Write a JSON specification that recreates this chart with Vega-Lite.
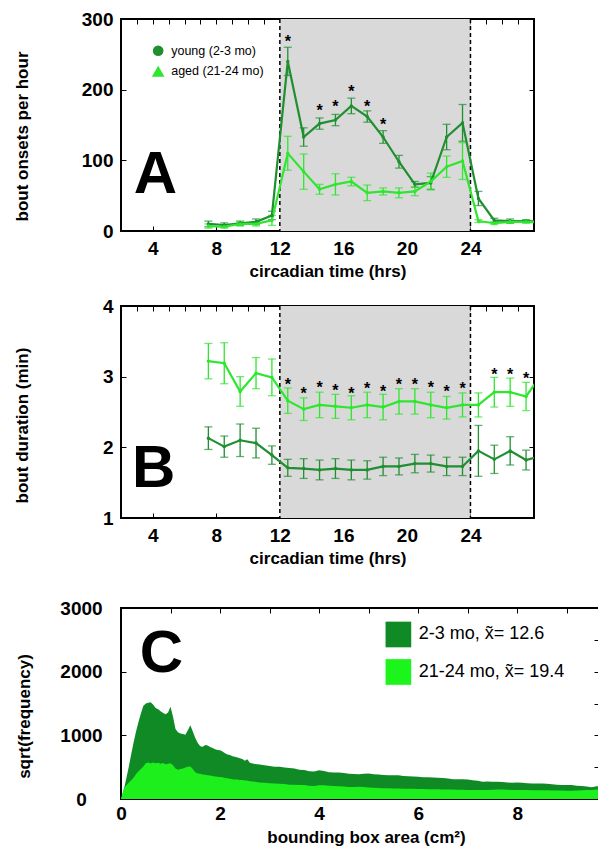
{
  "$schema": "https://vega.github.io/schema/vega-lite/v6.json",
  "background": "white",
  "padding": {"left": 11, "top": 9, "right": 0, "bottom": 0},
  "spacing": 31,
  "datasets": {
    "a": [
      {"t": 7.5, "g": "young", "m": 10, "lo": 6, "hi": 14},
      {"t": 8.5, "g": "young", "m": 8.5, "lo": 5.5, "hi": 11.5},
      {"t": 9.5, "g": "young", "m": 11, "lo": 8, "hi": 14},
      {"t": 10.5, "g": "young", "m": 13, "lo": 9, "hi": 17},
      {"t": 11.5, "g": "young", "m": 22, "lo": 16, "hi": 28},
      {"t": 12.5, "g": "young", "m": 240, "lo": 220, "hi": 260},
      {"t": 13.5, "g": "young", "m": 133, "lo": 120, "hi": 146},
      {"t": 14.5, "g": "young", "m": 152, "lo": 144, "hi": 160},
      {"t": 15.5, "g": "young", "m": 157, "lo": 149, "hi": 165},
      {"t": 16.5, "g": "young", "m": 177, "lo": 166, "hi": 188},
      {"t": 17.5, "g": "young", "m": 162, "lo": 154, "hi": 170},
      {"t": 18.5, "g": "young", "m": 133, "lo": 124, "hi": 142},
      {"t": 19.5, "g": "young", "m": 98, "lo": 89, "hi": 107},
      {"t": 20.5, "g": "young", "m": 66, "lo": 62, "hi": 70},
      {"t": 21.5, "g": "young", "m": 68, "lo": 59, "hi": 77},
      {"t": 22.5, "g": "young", "m": 133, "lo": 115, "hi": 151},
      {"t": 23.5, "g": "young", "m": 153, "lo": 127, "hi": 179},
      {"t": 24.5, "g": "young", "m": 46, "lo": 36, "hi": 56},
      {"t": 25.5, "g": "young", "m": 15, "lo": 12, "hi": 18},
      {"t": 26.5, "g": "young", "m": 14, "lo": 11, "hi": 17},
      {"t": 27.5, "g": "young", "m": 14, "lo": 12, "hi": 16},
      {"t": 28.5, "g": "young", "m": 13, "lo": 11, "hi": 15},
      {"t": 7.5, "g": "aged", "m": 7, "lo": 4, "hi": 10},
      {"t": 8.5, "g": "aged", "m": 6, "lo": 4, "hi": 8},
      {"t": 9.5, "g": "aged", "m": 10, "lo": 7, "hi": 13},
      {"t": 10.5, "g": "aged", "m": 10, "lo": 7, "hi": 13},
      {"t": 11.5, "g": "aged", "m": 15, "lo": 8, "hi": 22},
      {"t": 12.5, "g": "aged", "m": 110, "lo": 86, "hi": 134},
      {"t": 13.5, "g": "aged", "m": 84, "lo": 59, "hi": 109},
      {"t": 14.5, "g": "aged", "m": 59, "lo": 52, "hi": 66},
      {"t": 15.5, "g": "aged", "m": 66, "lo": 51, "hi": 81},
      {"t": 16.5, "g": "aged", "m": 70, "lo": 64, "hi": 76},
      {"t": 17.5, "g": "aged", "m": 54, "lo": 43, "hi": 65},
      {"t": 18.5, "g": "aged", "m": 56, "lo": 51, "hi": 61},
      {"t": 19.5, "g": "aged", "m": 54, "lo": 47, "hi": 61},
      {"t": 20.5, "g": "aged", "m": 56, "lo": 50, "hi": 62},
      {"t": 21.5, "g": "aged", "m": 70, "lo": 58, "hi": 82},
      {"t": 22.5, "g": "aged", "m": 91, "lo": 76, "hi": 106},
      {"t": 23.5, "g": "aged", "m": 99, "lo": 73, "hi": 125},
      {"t": 24.5, "g": "aged", "m": 14, "lo": 12, "hi": 16},
      {"t": 25.5, "g": "aged", "m": 11, "lo": 9, "hi": 13},
      {"t": 26.5, "g": "aged", "m": 13, "lo": 11, "hi": 15},
      {"t": 27.5, "g": "aged", "m": 13, "lo": 11, "hi": 15},
      {"t": 28.5, "g": "aged", "m": 12, "lo": 10, "hi": 14}
    ],
    "b": [
      {"t": 7.5, "g": "young", "m": 2.13, "lo": 1.97, "hi": 2.29},
      {"t": 8.5, "g": "young", "m": 2.01, "lo": 1.86, "hi": 2.16},
      {"t": 9.5, "g": "young", "m": 2.10, "lo": 1.87, "hi": 2.33},
      {"t": 10.5, "g": "young", "m": 2.06, "lo": 1.85, "hi": 2.27},
      {"t": 11.5, "g": "young", "m": 1.89, "lo": 1.76, "hi": 2.02},
      {"t": 12.5, "g": "young", "m": 1.71, "lo": 1.59, "hi": 1.83},
      {"t": 13.5, "g": "young", "m": 1.70, "lo": 1.56, "hi": 1.84},
      {"t": 14.5, "g": "young", "m": 1.68, "lo": 1.54, "hi": 1.82},
      {"t": 15.5, "g": "young", "m": 1.70, "lo": 1.56, "hi": 1.84},
      {"t": 16.5, "g": "young", "m": 1.68, "lo": 1.54, "hi": 1.82},
      {"t": 17.5, "g": "young", "m": 1.68, "lo": 1.55, "hi": 1.81},
      {"t": 18.5, "g": "young", "m": 1.73, "lo": 1.60, "hi": 1.86},
      {"t": 19.5, "g": "young", "m": 1.73, "lo": 1.61, "hi": 1.85},
      {"t": 20.5, "g": "young", "m": 1.77, "lo": 1.64, "hi": 1.90},
      {"t": 21.5, "g": "young", "m": 1.77, "lo": 1.65, "hi": 1.89},
      {"t": 22.5, "g": "young", "m": 1.73, "lo": 1.60, "hi": 1.86},
      {"t": 23.5, "g": "young", "m": 1.73, "lo": 1.60, "hi": 1.86},
      {"t": 24.5, "g": "young", "m": 1.95, "lo": 1.59, "hi": 2.31},
      {"t": 25.5, "g": "young", "m": 1.83, "lo": 1.63, "hi": 2.03},
      {"t": 26.5, "g": "young", "m": 1.95, "lo": 1.75, "hi": 2.15},
      {"t": 27.5, "g": "young", "m": 1.82, "lo": 1.68, "hi": 1.96},
      {"t": 28.5, "g": "young", "m": 1.88, "lo": 1.74, "hi": 2.02},
      {"t": 7.5, "g": "aged", "m": 3.22, "lo": 2.97, "hi": 3.47},
      {"t": 8.5, "g": "aged", "m": 3.19, "lo": 2.90, "hi": 3.48},
      {"t": 9.5, "g": "aged", "m": 2.79, "lo": 2.58, "hi": 3.00},
      {"t": 10.5, "g": "aged", "m": 3.05, "lo": 2.83, "hi": 3.27},
      {"t": 11.5, "g": "aged", "m": 2.99, "lo": 2.73, "hi": 3.25},
      {"t": 12.5, "g": "aged", "m": 2.66, "lo": 2.48, "hi": 2.84},
      {"t": 13.5, "g": "aged", "m": 2.54, "lo": 2.38, "hi": 2.70},
      {"t": 14.5, "g": "aged", "m": 2.60, "lo": 2.42, "hi": 2.78},
      {"t": 15.5, "g": "aged", "m": 2.58, "lo": 2.41, "hi": 2.75},
      {"t": 16.5, "g": "aged", "m": 2.56, "lo": 2.39, "hi": 2.73},
      {"t": 17.5, "g": "aged", "m": 2.60, "lo": 2.42, "hi": 2.78},
      {"t": 18.5, "g": "aged", "m": 2.57, "lo": 2.39, "hi": 2.75},
      {"t": 19.5, "g": "aged", "m": 2.65, "lo": 2.47, "hi": 2.83},
      {"t": 20.5, "g": "aged", "m": 2.65, "lo": 2.47, "hi": 2.83},
      {"t": 21.5, "g": "aged", "m": 2.60, "lo": 2.42, "hi": 2.78},
      {"t": 22.5, "g": "aged", "m": 2.56, "lo": 2.40, "hi": 2.72},
      {"t": 23.5, "g": "aged", "m": 2.60, "lo": 2.43, "hi": 2.77},
      {"t": 24.5, "g": "aged", "m": 2.60, "lo": 2.43, "hi": 2.77},
      {"t": 25.5, "g": "aged", "m": 2.78, "lo": 2.57, "hi": 2.99},
      {"t": 26.5, "g": "aged", "m": 2.78, "lo": 2.58, "hi": 2.98},
      {"t": 27.5, "g": "aged", "m": 2.72, "lo": 2.52, "hi": 2.92},
      {"t": 28.5, "g": "aged", "m": 3.04, "lo": 2.84, "hi": 3.24}
    ],
    "sa": [
      {"t": 12.5, "y": 273}, {"t": 14.5, "y": 175}, {"t": 15.5, "y": 181},
      {"t": 16.5, "y": 202}, {"t": 17.5, "y": 181}, {"t": 18.5, "y": 156}
    ],
    "sb": [
      {"t": 12.5, "y": 2.94}, {"t": 13.5, "y": 2.81}, {"t": 14.5, "y": 2.89},
      {"t": 15.5, "y": 2.85}, {"t": 16.5, "y": 2.81}, {"t": 17.5, "y": 2.88},
      {"t": 18.5, "y": 2.84}, {"t": 19.5, "y": 2.94}, {"t": 20.5, "y": 2.94},
      {"t": 21.5, "y": 2.89}, {"t": 22.5, "y": 2.84}, {"t": 23.5, "y": 2.88},
      {"t": 25.5, "y": 3.08}, {"t": 26.5, "y": 3.08}, {"t": 27.5, "y": 3.02}
    ],
    "c": [
      {"a": 0, "d": 0, "l": 0},
      {"a": 0.05, "d": 120, "l": 150}, {"a": 0.1, "d": 300, "l": 210}, {"a": 0.15, "d": 480, "l": 250},
      {"a": 0.2, "d": 680, "l": 290}, {"a": 0.25, "d": 870, "l": 330}, {"a": 0.3, "d": 1050, "l": 390},
      {"a": 0.35, "d": 1200, "l": 430}, {"a": 0.4, "d": 1340, "l": 470}, {"a": 0.45, "d": 1460, "l": 510},
      {"a": 0.5, "d": 1500, "l": 560}, {"a": 0.55, "d": 1510, "l": 575}, {"a": 0.6, "d": 1520, "l": 560},
      {"a": 0.65, "d": 1480, "l": 575}, {"a": 0.7, "d": 1430, "l": 560}, {"a": 0.75, "d": 1410, "l": 570},
      {"a": 0.8, "d": 1380, "l": 555}, {"a": 0.85, "d": 1350, "l": 565}, {"a": 0.9, "d": 1330, "l": 545},
      {"a": 0.95, "d": 1360, "l": 555}, {"a": 1.0, "d": 1450, "l": 560}, {"a": 1.05, "d": 1290, "l": 530},
      {"a": 1.1, "d": 1100, "l": 480}, {"a": 1.15, "d": 1050, "l": 460}, {"a": 1.2, "d": 1030, "l": 470},
      {"a": 1.25, "d": 1020, "l": 480}, {"a": 1.3, "d": 1010, "l": 495}, {"a": 1.35, "d": 1080, "l": 505},
      {"a": 1.4, "d": 1160, "l": 510}, {"a": 1.45, "d": 1060, "l": 470}, {"a": 1.5, "d": 960, "l": 420},
      {"a": 1.55, "d": 880, "l": 400}, {"a": 1.6, "d": 830, "l": 395}, {"a": 1.65, "d": 820, "l": 385},
      {"a": 1.7, "d": 850, "l": 380}, {"a": 1.75, "d": 840, "l": 375}, {"a": 1.8, "d": 815, "l": 370},
      {"a": 1.85, "d": 800, "l": 360}, {"a": 1.9, "d": 780, "l": 355}, {"a": 1.95, "d": 770, "l": 350},
      {"a": 2.0, "d": 765, "l": 345}, {"a": 2.05, "d": 745, "l": 340}, {"a": 2.1, "d": 720, "l": 330},
      {"a": 2.15, "d": 700, "l": 325}, {"a": 2.2, "d": 690, "l": 320}, {"a": 2.25, "d": 670, "l": 312},
      {"a": 2.3, "d": 665, "l": 305}, {"a": 2.35, "d": 650, "l": 308}, {"a": 2.4, "d": 640, "l": 300},
      {"a": 2.45, "d": 630, "l": 298}, {"a": 2.5, "d": 600, "l": 290}, {"a": 2.55, "d": 625, "l": 290},
      {"a": 2.6, "d": 570, "l": 280}, {"a": 2.7, "d": 550, "l": 272}, {"a": 2.8, "d": 540, "l": 260},
      {"a": 2.9, "d": 530, "l": 255}, {"a": 3.0, "d": 520, "l": 248}, {"a": 3.1, "d": 505, "l": 245},
      {"a": 3.2, "d": 505, "l": 238}, {"a": 3.3, "d": 495, "l": 236}, {"a": 3.4, "d": 485, "l": 225},
      {"a": 3.5, "d": 480, "l": 222}, {"a": 3.6, "d": 460, "l": 220}, {"a": 3.7, "d": 455, "l": 218},
      {"a": 3.8, "d": 435, "l": 210}, {"a": 3.9, "d": 430, "l": 205}, {"a": 4.0, "d": 450, "l": 215},
      {"a": 4.1, "d": 440, "l": 215}, {"a": 4.2, "d": 420, "l": 208}, {"a": 4.3, "d": 415, "l": 205},
      {"a": 4.4, "d": 418, "l": 200}, {"a": 4.5, "d": 410, "l": 195}, {"a": 4.6, "d": 395, "l": 190},
      {"a": 4.7, "d": 392, "l": 188}, {"a": 4.8, "d": 390, "l": 192}, {"a": 4.9, "d": 395, "l": 190},
      {"a": 5.0, "d": 400, "l": 180}, {"a": 5.1, "d": 390, "l": 175}, {"a": 5.2, "d": 385, "l": 172},
      {"a": 5.3, "d": 378, "l": 170}, {"a": 5.4, "d": 375, "l": 168}, {"a": 5.5, "d": 372, "l": 166},
      {"a": 5.6, "d": 375, "l": 165}, {"a": 5.7, "d": 362, "l": 162}, {"a": 5.8, "d": 358, "l": 160},
      {"a": 5.9, "d": 352, "l": 160}, {"a": 6.0, "d": 350, "l": 158}, {"a": 6.1, "d": 342, "l": 158},
      {"a": 6.2, "d": 340, "l": 155}, {"a": 6.3, "d": 338, "l": 155}, {"a": 6.4, "d": 335, "l": 152},
      {"a": 6.5, "d": 328, "l": 150}, {"a": 6.6, "d": 322, "l": 150}, {"a": 6.7, "d": 312, "l": 148},
      {"a": 6.8, "d": 310, "l": 146}, {"a": 6.9, "d": 310, "l": 145}, {"a": 7.0, "d": 305, "l": 142},
      {"a": 7.1, "d": 295, "l": 142}, {"a": 7.2, "d": 288, "l": 140}, {"a": 7.3, "d": 272, "l": 140},
      {"a": 7.4, "d": 275, "l": 140}, {"a": 7.5, "d": 270, "l": 145}, {"a": 7.6, "d": 272, "l": 148},
      {"a": 7.7, "d": 268, "l": 150}, {"a": 7.8, "d": 258, "l": 145}, {"a": 7.9, "d": 255, "l": 142},
      {"a": 8.0, "d": 260, "l": 140}, {"a": 8.1, "d": 255, "l": 140}, {"a": 8.2, "d": 248, "l": 140},
      {"a": 8.3, "d": 245, "l": 138}, {"a": 8.4, "d": 245, "l": 138}, {"a": 8.5, "d": 242, "l": 138},
      {"a": 8.6, "d": 238, "l": 136}, {"a": 8.7, "d": 232, "l": 135}, {"a": 8.8, "d": 222, "l": 133},
      {"a": 8.9, "d": 220, "l": 132}, {"a": 9.0, "d": 220, "l": 130}, {"a": 9.1, "d": 218, "l": 130},
      {"a": 9.2, "d": 210, "l": 135}, {"a": 9.3, "d": 205, "l": 138}, {"a": 9.4, "d": 195, "l": 140},
      {"a": 9.5, "d": 185, "l": 142}, {"a": 9.6, "d": 200, "l": 148}, {"a": 9.7, "d": 205, "l": 150}
    ]
  },
  "vconcat": [
    {
      "bounds": "flush",
      "spacing": 75,
      "vconcat": [
        {
          "width": 413,
          "height": 212,
          "resolve": {"axis": {"x": "independent", "y": "independent"}},
          "layer": [
            {
              "layer": [
                {
                  "data": {"values": [{}]},
                  "mark": {"type": "rect", "color": "#d9d9d9"},
                  "encoding": {
                    "x": {"datum": 12, "type": "quantitative", "scale": {"domain": [2, 28], "nice": false, "zero": false}},
                    "x2": {"datum": 24}
                  }
                },
                {
                  "data": {"values": [{"t": 12}, {"t": 24}]},
                  "mark": {"type": "rule", "color": "black", "strokeDash": [4, 3], "strokeWidth": 1.5},
                  "encoding": {"x": {"field": "t", "type": "quantitative"}}
                },
                {
                  "data": {"name": "a"},
                  "mark": {"type": "errorbar", "ticks": {"size": 8}, "thickness": 1.3, "clip": true},
                  "encoding": {
                    "x": {"field": "t", "type": "quantitative", "scale": {"domain": [2, 28], "nice": false, "zero": false},
                      "axis": {"title": "circadian time (hrs)", "values": [4, 8, 12, 16, 20, 24], "format": "d", "labelPadding": 13.5, "titleY": 32.5}},
                    "y": {"field": "lo", "type": "quantitative", "scale": {"domain": [0, 300], "nice": false},
                      "axis": {"title": "bout onsets per hour", "values": [0, 100, 200, 300], "format": "d", "labelPadding": 13, "titleX": -90, "titleY": 117}},
                    "y2": {"field": "hi"},
                    "color": {"field": "g", "type": "nominal", "scale": {"domain": ["young", "aged"], "range": ["#1f8f30", "#2ee62e"]}, "legend": null}
                  }
                },
                {
                  "data": {"name": "a"},
                  "mark": {"type": "line", "strokeWidth": 2.2, "clip": true, "point": {"filled": true, "size": 12}},
                  "encoding": {
                    "x": {"field": "t", "type": "quantitative"},
                    "y": {"field": "m", "type": "quantitative"},
                    "color": {"field": "g", "type": "nominal", "legend": null}
                  }
                },
                {
                  "data": {"name": "sa"},
                  "mark": {"type": "text", "text": "*", "fontSize": 16, "fontWeight": "bold", "baseline": "middle", "dy": 4, "color": "black"},
                  "encoding": {"x": {"field": "t", "type": "quantitative"}, "y": {"field": "y", "type": "quantitative"}}
                },
                {
                  "data": {"values": [{}]},
                  "mark": {"type": "text", "text": "A", "fontSize": 60, "fontWeight": "bold", "align": "left", "baseline": "alphabetic", "color": "black"},
                  "encoding": {"x": {"datum": 2.8}, "y": {"datum": 54}}
                },
                {
                  "data": {"values": [{}]},
                  "mark": {"type": "point", "shape": "circle", "filled": true, "opacity": 1, "size": 113, "color": "#1f8f30"},
                  "encoding": {"x": {"datum": 4.34}, "y": {"datum": 255}}
                },
                {
                  "data": {"values": [{}]},
                  "mark": {"type": "point", "shape": "triangle-up", "filled": true, "opacity": 1, "size": 160, "color": "#2ee62e"},
                  "encoding": {"x": {"datum": 4.34}, "y": {"datum": 226}}
                },
                {
                  "data": {"values": [{}]},
                  "mark": {"type": "text", "text": "young (2-3 mo)", "fontSize": 12.5, "align": "left", "baseline": "middle", "color": "black"},
                  "encoding": {"x": {"datum": 5.16}, "y": {"datum": 255}}
                },
                {
                  "data": {"values": [{}]},
                  "mark": {"type": "text", "text": "aged (21-24 mo)", "fontSize": 12.5, "align": "left", "baseline": "middle", "color": "black"},
                  "encoding": {"x": {"datum": 5.16}, "y": {"datum": 226}}
                }
              ]
            },
            {
              "data": {"name": "a"},
              "mark": {"type": "point", "opacity": 0, "clip": true},
              "encoding": {
                "x": {"field": "t", "type": "quantitative", "scale": {"domain": [2, 28], "nice": false, "zero": false},
                  "axis": {"orient": "top", "labels": false, "title": null, "values": [3,4,5,6,7,8,9,10,11,12,13,14,15,16,17,18,19,20,21,22,23,24,25,26,27]}},
                "y": {"field": "m", "type": "quantitative", "scale": {"domain": [0, 300], "nice": false},
                  "axis": {"orient": "right", "labels": false, "title": null, "values": [0, 100, 200, 300]}}
              }
            }
          ]
        },
        {
          "width": 413,
          "height": 212,
          "resolve": {"axis": {"x": "independent", "y": "independent"}},
          "layer": [
            {
              "layer": [
                {
                  "data": {"values": [{}]},
                  "mark": {"type": "rect", "color": "#d9d9d9"},
                  "encoding": {
                    "x": {"datum": 12, "type": "quantitative", "scale": {"domain": [2, 28], "nice": false, "zero": false}},
                    "x2": {"datum": 24}
                  }
                },
                {
                  "data": {"values": [{"t": 12}, {"t": 24}]},
                  "mark": {"type": "rule", "color": "black", "strokeDash": [4, 3], "strokeWidth": 1.5},
                  "encoding": {"x": {"field": "t", "type": "quantitative"}}
                },
                {
                  "data": {"name": "b"},
                  "mark": {"type": "errorbar", "ticks": {"size": 8}, "thickness": 1.3, "clip": true},
                  "encoding": {
                    "x": {"field": "t", "type": "quantitative", "scale": {"domain": [2, 28], "nice": false, "zero": false},
                      "axis": {"title": "circadian time (hrs)", "values": [4, 8, 12, 16, 20, 24], "format": "d", "labelPadding": 13.5, "titleY": 32}},
                    "y": {"field": "lo", "type": "quantitative", "scale": {"domain": [1, 4], "nice": false},
                      "axis": {"title": "bout duration (min)", "values": [1, 2, 3, 4], "format": "d", "labelPadding": 13, "titleX": -90, "titleY": 119}},
                    "y2": {"field": "hi"},
                    "color": {"field": "g", "type": "nominal", "scale": {"domain": ["young", "aged"], "range": ["#1f8f30", "#2ee62e"]}, "legend": null}
                  }
                },
                {
                  "data": {"name": "b"},
                  "mark": {"type": "line", "strokeWidth": 2.2, "clip": true, "point": {"filled": true, "size": 12}},
                  "encoding": {
                    "x": {"field": "t", "type": "quantitative"},
                    "y": {"field": "m", "type": "quantitative"},
                    "color": {"field": "g", "type": "nominal", "legend": null}
                  }
                },
                {
                  "data": {"name": "sb"},
                  "mark": {"type": "text", "text": "*", "fontSize": 16, "fontWeight": "bold", "baseline": "middle", "dy": 4, "color": "black"},
                  "encoding": {"x": {"field": "t", "type": "quantitative"}, "y": {"field": "y", "type": "quantitative"}}
                },
                {
                  "data": {"values": [{}]},
                  "mark": {"type": "text", "text": "B", "fontSize": 60, "fontWeight": "bold", "align": "left", "baseline": "alphabetic", "color": "black"},
                  "encoding": {"x": {"datum": 2.7}, "y": {"datum": 1.44}}
                }
              ]
            },
            {
              "data": {"name": "b"},
              "mark": {"type": "point", "opacity": 0, "clip": true},
              "encoding": {
                "x": {"field": "t", "type": "quantitative", "scale": {"domain": [2, 28], "nice": false, "zero": false},
                  "axis": {"orient": "top", "labels": false, "title": null, "values": [3,4,5,6,7,8,9,10,11,12,13,14,15,16,17,18,19,20,21,22,23,24,25,26,27]}},
                "y": {"field": "m", "type": "quantitative", "scale": {"domain": [1, 4], "nice": false},
                  "axis": {"orient": "right", "labels": false, "title": null, "values": [1, 2, 3, 4]}}
              }
            }
          ]
        }
      ]
    },
    {
      "width": 478,
      "height": 191,
      "resolve": {"axis": {"x": "independent", "y": "independent"}},
      "layer": [
        {
          "layer": [
            {
              "data": {"name": "c"},
              "mark": {"type": "area", "color": "#0f8a24", "clip": true},
              "encoding": {
                "x": {"field": "a", "type": "quantitative", "scale": {"domain": [0, 9.65], "nice": false},
                  "axis": {"title": "bounding box area (cm²)", "values": [0,1,2,3,4,5,6,7,8,9],
                    "labelExpr": "datum.value % 2 === 0 ? datum.label : ''", "labelPadding": 10, "titleY": 30, "titleX": 245}},
                "y": {"field": "d", "type": "quantitative", "scale": {"domain": [0, 3000], "nice": false},
                  "axis": {"title": "sqrt(frequency)", "values": [0,500,1000,1500,2000,2500,3000],
                    "labelExpr": "datum.value % 1000 === 0 ? '' + datum.value : ''", "labelAlign": "center", "labelPadding": 45, "titleX": -88, "titleY": 108}}
              }
            },
            {
              "data": {"name": "c"},
              "mark": {"type": "area", "color": "#1cef1c", "clip": true},
              "encoding": {
                "x": {"field": "a", "type": "quantitative"},
                "y": {"field": "l", "type": "quantitative"}
              }
            },
            {
              "data": {"values": [{}]},
              "mark": {"type": "text", "text": "C", "fontSize": 60, "fontWeight": "bold", "align": "left", "baseline": "alphabetic", "color": "black"},
              "encoding": {"x": {"datum": 0.38}, "y": {"datum": 2000}}
            },
            {
              "data": {"values": [{}]},
              "mark": {"type": "point", "shape": "square", "filled": true, "opacity": 1, "size": 660, "color": "#0f8a24"},
              "encoding": {"x": {"datum": 5.6}, "y": {"datum": 2584}}
            },
            {
              "data": {"values": [{}]},
              "mark": {"type": "point", "shape": "square", "filled": true, "opacity": 1, "size": 660, "color": "#1cf51c"},
              "encoding": {"x": {"datum": 5.6}, "y": {"datum": 1995}}
            },
            {
              "data": {"values": [{}]},
              "mark": {"type": "text", "text": "2-3 mo, x̃= 12.6", "fontSize": 18, "align": "left", "baseline": "middle", "color": "black"},
              "encoding": {"x": {"datum": 6.01}, "y": {"datum": 2584}}
            },
            {
              "data": {"values": [{}]},
              "mark": {"type": "text", "text": "21-24 mo, x̃= 19.4", "fontSize": 18, "align": "left", "baseline": "middle", "color": "black"},
              "encoding": {"x": {"datum": 6.01}, "y": {"datum": 1995}}
            }
          ]
        },
        {
          "data": {"name": "c"},
          "mark": {"type": "point", "opacity": 0, "clip": true},
          "encoding": {
            "x": {"field": "a", "type": "quantitative", "scale": {"domain": [0, 9.65], "nice": false},
              "axis": {"orient": "top", "labels": false, "title": null, "values": [1,2,3,4,5,6,7,8,9]}},
            "y": {"field": "d", "type": "quantitative", "scale": {"domain": [0, 3000], "nice": false},
              "axis": {"orient": "right", "labels": false, "title": null, "values": [500,1000,1500,2000,2500]}}
          }
        }
      ]
    }
  ],
  "config": {
    "font": "Liberation Sans",
    "view": {"stroke": "black", "strokeWidth": 2},
    "axis": {
      "labelFont": "Liberation Sans", "labelFontWeight": "bold", "labelFontSize": 19, "labelColor": "black",
      "titleFont": "Liberation Sans", "titleFontWeight": "bold", "titleFontSize": 17, "titleColor": "black",
      "tickColor": "black", "tickWidth": 1, "tickSize": -5, "domain": false, "grid": false,
      "labelOverlap": false, "labelFlush": false
    }
  }
}
